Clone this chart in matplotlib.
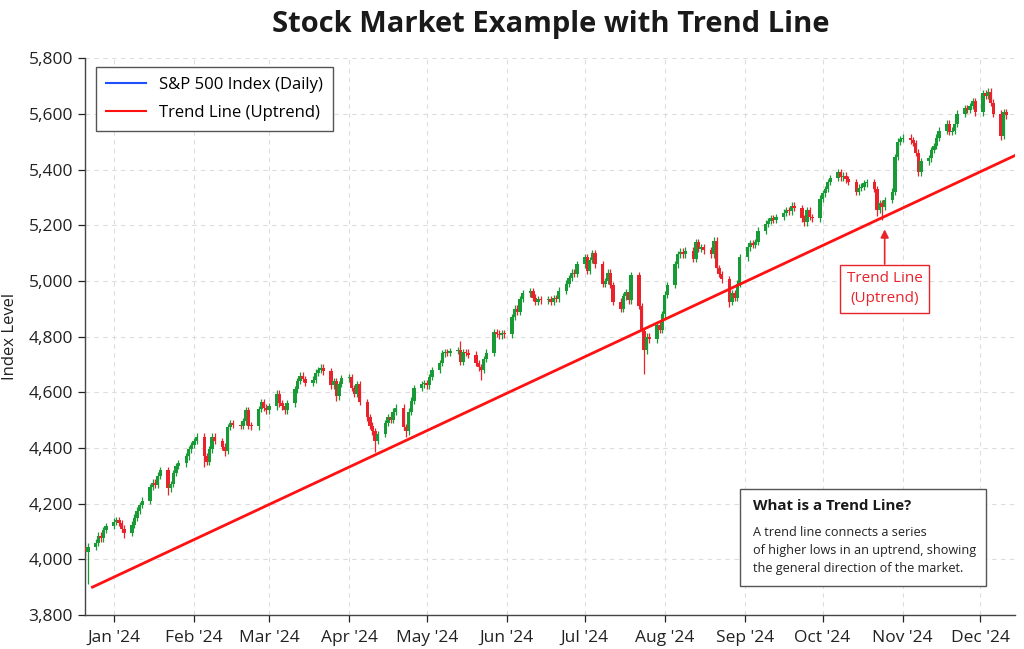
import matplotlib
matplotlib.use("Agg")
import matplotlib.pyplot as plt
import matplotlib.dates as mdates
from matplotlib.lines import Line2D
from matplotlib.patches import Rectangle
from matplotlib.ticker import FuncFormatter
import numpy as np
import pandas as pd

plt.rcParams['font.family'] = ['Open Sans', 'DejaVu Sans']

# daily closes, one row per trading week
first_open = 4045
closes = [
    4025, 4045,                          # Dec 21-22 2023
    4060, 4085, 4075, 4105, 4120,        # Dec 25
    4135, 4140, 4130, 4110, 4095,        # Jan 1
    4125, 4150, 4175, 4195, 4210,        # Jan 8
    4260, 4275, 4268, 4300, 4320,        # Jan 15
    4255, 4270, 4310, 4335, 4345,        # Jan 22
    4370, 4395, 4410, 4425, 4440,        # Jan 29
    4370, 4350, 4395, 4440, 4425,        # Feb 5
    4405, 4390, 4475, 4490, 4482,        # Feb 12
    4480, 4495, 4535, 4480, 4478,        # Feb 19
    4540, 4565, 4545, 4535, 4550,        # Feb 26
    4595, 4560, 4550, 4535, 4560,        # Mar 4
    4610, 4640, 4660, 4648, 4635,        # Mar 11
    4645, 4670, 4680, 4688, 4675,        # Mar 18
    4625, 4640, 4585, 4630, 4650,        # Mar 25
    4655, 4615, 4595, 4630, 4565,        # Apr 1
    4510, 4480, 4460, 4425, 4450,        # Apr 8
    4490, 4510, 4500, 4530, 4545,        # Apr 15
    4475, 4460, 4530, 4570, 4615,        # Apr 22
    4628, 4632, 4625, 4655, 4680,        # Apr 29
    4705, 4740, 4745, 4742, 4748,        # May 6
    4752, 4710, 4745, 4742, 4735,        # May 13
    4705, 4690, 4680, 4720, 4742,        # May 20
    4815, 4810, 4805, 4812, 4808,        # May 27
    4870, 4900, 4888, 4935, 4955,        # Jun 3
    4962, 4940, 4925, 4935, 4930,        # Jun 10
    4935, 4925, 4938, 4935, 4965,        # Jun 17
    4990, 5010, 5030, 5025, 5060,        # Jun 24
    5085, 5035, 5075, 5100, 5060,        # Jul 1
    4990, 5000, 5030, 4985, 4925,        # Jul 8
    4900, 4945, 4960, 4930, 5020,        # Jul 15
    4910, 4820, 4750, 4800, 4790,        # Jul 22
    4840, 4825, 4880, 4950, 4985,        # Jul 29
    5060, 5095, 5105, 5095, 5108,        # Aug 5
    5080, 5140, 5115, 5120, 5110,        # Aug 12
    5095, 5145, 5045, 5025, 5005,        # Aug 19
    4925, 4955, 4940, 4990, 5085,        # Aug 26
    5120, 5135, 5130, 5140, 5180,        # Sep 2
    5205, 5215, 5225, 5220, 5230,        # Sep 9
    5245, 5255, 5250, 5270, 5262,        # Sep 16
    5225, 5210, 5255, 5230, 5225,        # Sep 23
    5295, 5315, 5330, 5355, 5370,        # Sep 30
    5390, 5372, 5378, 5365, 5355,        # Oct 7
    5320, 5335, 5338, 5350, 5355,        # Oct 14
    5330, 5255, 5280, 5265, 5290,        # Oct 21
    5320, 5445, 5500, 5510, 5515,        # Oct 28
    5505, 5495, 5460, 5390, 5430,        # Nov 4
    5440, 5470, 5485, 5515, 5540,        # Nov 11
    5565, 5535, 5540, 5565, 5600,        # Nov 18
    5620, 5615, 5628, 5645, 5605,        # Nov 25
    5675, 5665, 5680, 5640, 5600,        # Dec 2
    5520, 5605, 5595,                    # Dec 9
]

# the few long wicks that stand out
wick_lows = {"2023-12-22": 3910, "2024-01-05": 4075, "2024-01-22": 4232,
             "2024-02-05": 4330, "2024-02-13": 4372, "2024-03-27": 4570,
             "2024-04-11": 4385, "2024-04-23": 4440, "2024-05-22": 4645,
             "2024-07-24": 4665, "2024-08-26": 4905, "2024-10-22": 5232,
             "2024-10-24": 5220, "2024-12-09": 5505}
wick_highs = {"2024-05-14": 4785}

trend_dates = ["2023-12-23 18:00", "2024-12-14 07:00"]
trend_values = [3900, 5450]

dates = pd.bdate_range("2023-12-21", periods=len(closes))
closes = np.array(closes, dtype=float)
opens = np.concatenate([[first_open], closes[:-1]])
highs = np.maximum(opens, closes) + 12
lows = np.minimum(opens, closes) - 12
for d, v in wick_lows.items():
    lows[dates.get_loc(pd.Timestamp(d))] = v
for d, v in wick_highs.items():
    highs[dates.get_loc(pd.Timestamp(d))] = v

up_col = '#189b36'
down_col = '#e8232b'
cols = np.where(closes >= opens, up_col, down_col)

fig = plt.figure(figsize=(10.24, 6.49), dpi=100)
ax = fig.add_axes([0.083, 0.0524, 0.908, 0.858])

xd = mdates.date2num(dates)
ax.vlines(xd, lows, highs, colors=cols, linewidth=0.9, zorder=2)
body_h = np.maximum(np.abs(closes - opens), 4)
ax.bar(xd, body_h, bottom=np.minimum(opens, closes), width=1.3,
       color=cols, linewidth=0, zorder=3)

ax.plot(pd.to_datetime(trend_dates), trend_values, color='#ff1111', lw=2, zorder=4)

ax.set_xlim(pd.Timestamp("2023-12-20 21:00"), pd.Timestamp("2024-12-14 07:00"))
ax.set_ylim(3800, 5800)
ax.set_yticks(np.arange(3800, 5801, 200))
ax.yaxis.set_major_formatter(FuncFormatter(lambda v, p: f"{v:,.0f}"))
ax.xaxis.set_major_locator(mdates.MonthLocator())
ax.xaxis.set_major_formatter(mdates.DateFormatter("%b '%y"))
ax.tick_params(labelsize=12.5, colors='#222222', length=5, width=0.9)
ax.tick_params(axis='x', pad=6)
ax.grid(True, linestyle=(0, (4, 4)), color='#dddddd', linewidth=0.8, zorder=0)
ax.set_axisbelow(True)
for s in ['top', 'right']:
    ax.spines[s].set_visible(False)
for s in ['left', 'bottom']:
    ax.spines[s].set_color('#444444')
    ax.spines[s].set_linewidth(1.0)

ax.set_ylabel("Index Level", fontsize=12, labelpad=8, color='#222222')
fig.suptitle("Stock Market Example with Trend Line", fontsize=21, fontweight='bold',
             x=0.538, y=0.985, color='#1a1a1a')

handles = [Line2D([], [], color='#1f4fff', lw=1.5),
           Line2D([], [], color='#ff1111', lw=1.5)]
leg = ax.legend(handles, ["S&P 500 Index (Daily)", "Trend Line (Uptrend)"],
                loc='upper left', bbox_to_anchor=(0.012, 0.984), borderaxespad=0,
                fontsize=12, fancybox=False, framealpha=1, edgecolor='#555555',
                handlelength=2.4, borderpad=0.6, labelspacing=0.7)
leg.get_frame().set_linewidth(1.0)

ax.annotate("Trend Line\n(Uptrend)", xy=(pd.Timestamp("2024-10-25"), 5185),
            xytext=(pd.Timestamp("2024-10-25"), 4972), ha='center', va='center',
            fontsize=11, color='#e8232b', linespacing=1.4,
            bbox=dict(boxstyle='square,pad=0.45', fc='white', ec='#e8232b', lw=1),
            arrowprops=dict(arrowstyle='-|>', color='#e8232b', lw=1.2,
                            shrinkA=0, shrinkB=0, mutation_scale=12))

ax.add_patch(Rectangle((0.7045, 0.052), 0.2645, 0.1742, transform=ax.transAxes,
                       fc='white', ec='#555555', lw=1.0, zorder=6))
ax.text(0.7185, 0.1957, "What is a Trend Line?", transform=ax.transAxes,
        fontsize=10.8, fontweight='bold', va='center', color='#1a1a1a', zorder=7)
info_lines = ["A trend line connects a series",
              "of higher lows in an uptrend, showing",
              "the general direction of the market."]
for i, t in enumerate(info_lines):
    ax.text(0.7185, 0.149 - i * 0.0332, t, transform=ax.transAxes,
            fontsize=9.1, va='center', color='#222222', zorder=7)

fig.savefig("out.png", dpi=100)
